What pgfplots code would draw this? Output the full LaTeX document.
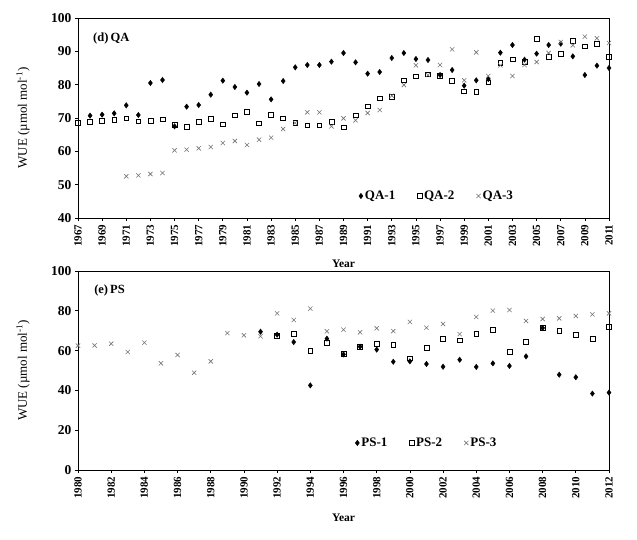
\documentclass[border=0pt]{standalone}
\usepackage{pgfplots}
\pgfplotsset{compat=1.18}
\usepackage{fontspec}
\setmainfont{Liberation Serif}
\definecolor{xgray}{RGB}{115,115,115}
\pgfplotsset{
  wuestyle/.style={
    scale only axis,
    width=531pt,
    anchor=south west,
    axis line style={black, line width=0.9pt},
    tick align=outside,
    major tick length=3pt,
    tick style={black, line width=0.7pt},
    ytick pos=left,
    xtick pos=bottom,
    /pgf/number format/assume math mode=true,
    /pgf/number format/1000 sep={},
    xticklabel style={rotate=90, anchor=east, font=\bfseries\fontsize{11}{11}\selectfont},
    yticklabel style={font=\bfseries\fontsize{13.5}{13.5}\selectfont},
    ylabel={WUE (\textmu mol mol\textsuperscript{-1})},
    ylabel style={at={(axis description cs:-0.1036,0.5)}, anchor=center, font=\fontsize{13}{13}\selectfont},
    xlabel={Year},
    xlabel style={anchor=center, font=\bfseries\fontsize{11.5}{11.5}\selectfont},
    legend style={draw=none, fill=none, legend columns=3, anchor=center,
      font=\bfseries\fontsize{13}{13}\selectfont,
      /tikz/every even column/.append style={column sep=20pt}},
    legend cell align=left,
  },
  s1/.style={only marks, mark=diamond*, mark size=2.7pt, black, mark options={fill=black}},
  s2/.style={only marks, mark=square, mark size=2.4pt, black, mark options={line width=0.6pt}},
  s3/.style={only marks, mark=x, mark size=3pt, xgray, mark options={line width=0.6pt}},
}
\begin{document}
\begin{tikzpicture}[x=1pt,y=1pt]
\useasboundingbox (0,0) rectangle (637,539);
% ---------- top panel (d) QA ----------
\begin{axis}[wuestyle,
  at={(78pt,321pt)}, height=200pt,
  xmin=1967, xmax=2011, ymin=40, ymax=100,
  xtick={1967,1969,...,2011}, ytick={40,50,...,100},
  xlabel style={at={(axis description cs:0.5,-0.23)}},
  legend style={at={(axis description cs:0.676,0.11)}},
]
\addplot[s1] coordinates {
(1968,70.7) (1969,71.0) (1970,71.4) (1971,73.8) (1972,70.9) (1973,80.5) (1974,81.4)
(1975,67.5) (1976,73.4) (1977,73.9) (1978,77.0) (1979,81.2) (1980,79.3) (1981,77.6)
(1982,80.2) (1983,75.6) (1984,81.1) (1985,85.2) (1986,85.9) (1987,85.9) (1988,86.9)
(1989,89.5) (1990,86.7) (1991,83.3) (1992,83.8) (1993,88.0) (1994,89.5) (1995,87.7)
(1996,87.4) (1997,82.9) (1998,84.4) (1999,79.7) (2000,81.3) (2001,81.7) (2002,89.6)
(2003,91.9) (2004,87.5) (2005,89.3) (2006,91.9) (2007,92.3) (2008,88.5) (2009,82.9)
(2010,85.7) (2011,85.0)};
\addlegendentry{QA-1}
\addplot[s2] coordinates {
(1967,68.5) (1968,68.8) (1969,69.2) (1970,69.5) (1971,69.9) (1972,69.0) (1973,69.2)
(1974,69.6) (1975,67.9) (1976,67.3) (1977,68.9) (1978,69.8) (1979,68.1) (1980,70.8)
(1981,71.9) (1982,68.4) (1983,70.9) (1984,69.9) (1985,68.5) (1986,67.8) (1987,67.8)
(1988,68.9) (1989,67.2) (1990,70.8) (1991,73.5) (1992,75.9) (1993,76.3) (1994,81.3)
(1995,82.5) (1996,83.1) (1997,82.6) (1998,81.1) (1999,78.0) (2000,77.9) (2001,80.7)
(2002,86.5) (2003,87.6) (2004,86.9) (2005,93.7) (2006,88.4) (2007,89.3) (2008,93.2)
(2009,91.5) (2010,92.2) (2011,88.3)};
\addlegendentry{QA-2}
\addplot[s3] coordinates {
(1971,52.5) (1972,52.8) (1973,53.2) (1974,53.5) (1975,60.3) (1976,60.5) (1977,60.9)
(1978,61.3) (1979,62.5) (1980,63.1) (1981,61.9) (1982,63.5) (1983,64.1) (1984,66.7)
(1985,68.5) (1986,71.7) (1987,71.7) (1988,67.5) (1989,69.9) (1990,69.3) (1991,71.5)
(1992,72.4) (1993,76.7) (1994,79.9) (1995,85.8) (1996,82.9) (1997,85.9) (1998,90.6)
(1999,81.3) (2000,89.7) (2001,82.6) (2002,85.8) (2003,82.6) (2004,85.9) (2005,86.8)
(2006,89.5) (2007,92.8) (2008,91.8) (2009,94.4) (2010,93.9) (2011,92.5)};
\addlegendentry{QA-3}
\node[anchor=west, font=\bfseries\fontsize{12.5}{12.5}\selectfont] at (rel axis cs:0.022,0.9) {(d)\,QA};
\end{axis}
% ---------- bottom panel (e) PS ----------
\begin{axis}[wuestyle,
  at={(78pt,69pt)}, height=199pt,
  xmin=1980, xmax=2012, ymin=0, ymax=100,
  xtick={1980,1982,...,2012}, ytick={0,20,...,100},
  xlabel style={at={(axis description cs:0.5,-0.241)}},
  legend style={at={(axis description cs:0.657,0.136)}},
]
\addplot[s1] coordinates {
(1991,69.5) (1992,68.0) (1993,64.3) (1994,42.5) (1995,66.0) (1996,58.1) (1997,62.0)
(1998,60.5) (1999,54.4) (2000,54.6) (2001,53.3) (2002,51.9) (2003,55.4) (2004,51.8)
(2005,53.6) (2006,52.3) (2007,57.1) (2008,71.4) (2009,47.9) (2010,46.6) (2011,38.4)
(2012,38.9)};
\addlegendentry{PS-1}
\addplot[s2] coordinates {
(1992,67.3) (1993,68.5) (1994,60.0) (1995,64.0) (1996,58.5) (1997,62.0) (1998,63.5)
(1999,62.8) (2000,56.1) (2001,61.6) (2002,66.0) (2003,65.2) (2004,68.5) (2005,70.5)
(2006,59.5) (2007,64.5) (2008,71.4) (2009,69.8) (2010,67.8) (2011,66.0) (2012,71.9)};
\addlegendentry{PS-2}
\addplot[s3] coordinates {
(1980,62.5) (1981,62.6) (1982,63.5) (1983,59.3) (1984,64.0) (1985,53.6) (1986,57.8)
(1987,48.9) (1988,54.6) (1989,68.8) (1990,67.7) (1991,67.2) (1992,78.7) (1993,75.4)
(1994,81.1) (1995,69.7) (1996,70.5) (1997,69.2) (1998,71.2) (1999,69.8) (2000,74.4)
(2001,71.5) (2002,73.4) (2003,68.3) (2004,76.9) (2005,80.1) (2006,80.4) (2007,74.9)
(2008,75.9) (2009,76.2) (2010,77.4) (2011,78.2) (2012,78.7)};
\addlegendentry{PS-3}
\node[anchor=west, font=\bfseries\fontsize{12.5}{12.5}\selectfont] at (rel axis cs:0.024,0.9) {(e)\,PS};
\end{axis}
\end{tikzpicture}
\end{document}
